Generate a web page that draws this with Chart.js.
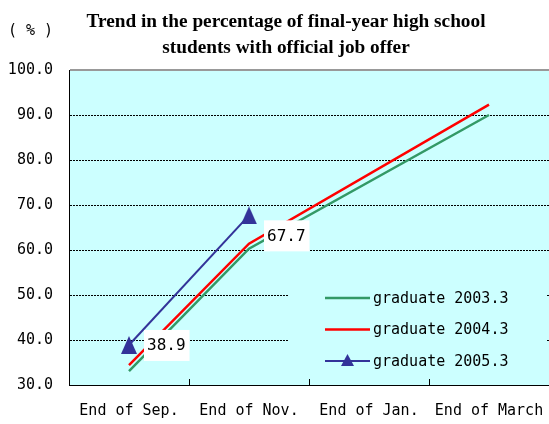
<!DOCTYPE html>
<html>
<head>
<meta charset="utf-8">
<script src="https://cdn.jsdelivr.net/npm/chart.js@4.4.1/dist/chart.umd.min.js"></script>
<style>
  body { margin: 0; background: #fff; }
  canvas { display: block; }
</style>
</head>
<body>
<canvas id="jobChart" width="549" height="424"></canvas>
<script>
    const periods = ['End of Sep.', 'End of Nov.', 'End of Jan.', 'End of March'];
    const grad2003 = [33.1, 60.3, null, 90.0];
    const grad2004 = [34.4, 61.4, null, 92.3];
    const grad2005 = [38.9, 67.7, null, null];
    const yTicks = [30, 40, 50, 60, 70, 80, 90, 100];
    const titleLines = ['Trend in the percentage of final-year high school', 'students with official job offer'];

    const monoFont = '"DejaVu Sans Mono", "Liberation Mono", monospace';

    function makeTriangle(w, h, color) {
      const c = document.createElement('canvas');
      c.width = w;
      c.height = h;
      const g = c.getContext('2d');
      g.fillStyle = color;
      g.beginPath();
      g.moveTo(w / 2, 0);
      g.lineTo(w, h);
      g.lineTo(0, h);
      g.closePath();
      g.fill();
      return c;
    }

    const blueTri = makeTriangle(16, 18, '#333399');

    // cyan plot background
    const plotBg = {
      id: 'plotBg',
      beforeDraw(chart) {
        const { ctx, chartArea: a } = chart;
        ctx.save();
        ctx.fillStyle = '#CCFFFF';
        ctx.fillRect(a.left, a.top, a.right - a.left, a.bottom - a.top);
        ctx.restore();
      }
    };

    // title, unit label and the small inward ticks between categories
    const extras = {
      id: 'extras',
      afterDraw(chart) {
        const { ctx, chartArea: a } = chart;
        const xs = chart.scales.x;
        const half = (xs.getPixelForValue(1) - xs.getPixelForValue(0)) / 2;
        ctx.save();
        ctx.strokeStyle = '#000';
        ctx.lineWidth = 1;
        for (let i = 0; i < periods.length - 1; i++) {
          const x = Math.round(xs.getPixelForValue(i) + half) + 0.5;
          ctx.beginPath();
          ctx.moveTo(x, a.bottom);
          ctx.lineTo(x, a.bottom - 6);
          ctx.stroke();
        }
        ctx.fillStyle = '#000';
        ctx.font = '15px ' + monoFont;
        ctx.textBaseline = 'middle';
        ctx.textAlign = 'left';
        ctx.fillText('( % )', 8, 31);

        ctx.font = 'bold 19.3px "Liberation Serif", "Times New Roman", serif';
        ctx.textAlign = 'center';
        ctx.textBaseline = 'alphabetic';
        titleLines.forEach((line, i) => ctx.fillText(line, 286, 27 + i * 26));
        ctx.restore();
      }
    };

    // value labels on the 2005 series
    const valueLabels = {
      id: 'valueLabels',
      afterDatasetsDraw(chart) {
        const { ctx } = chart;
        const meta = chart.getDatasetMeta(2);
        const shiftY = [0, 20];
        ctx.save();
        ctx.font = '16px ' + monoFont;
        ctx.textBaseline = 'middle';
        ctx.textAlign = 'left';
        meta.data.forEach((pt, i) => {
          const v = grad2005[i];
          if (v === null) return;
          const txt = v.toFixed(1);
          const w = ctx.measureText(txt).width;
          const tx = pt.x + 18;
          const ty = pt.y + shiftY[i];
          ctx.fillStyle = '#fff';
          ctx.fillRect(tx - 3, ty - 15, w + 7, 31);
          ctx.fillStyle = '#000';
          ctx.fillText(txt, tx, ty + 1);
        });
        ctx.restore();
      }
    };

    // legend inside the plot area
    const innerLegend = {
      id: 'innerLegend',
      afterDatasetsDraw(chart) {
        const { ctx, chartArea: a } = chart;
        const boxL = a.left + 219, boxT = a.top + 210;
        const boxR = a.right - 3, boxB = a.top + 308;
        ctx.save();
        ctx.fillStyle = '#CCFFFF';
        ctx.fillRect(boxL, boxT, boxR - boxL, boxB - boxT);
        ctx.font = '15px ' + monoFont;
        ctx.textBaseline = 'middle';
        ctx.textAlign = 'left';
        chart.data.datasets.forEach((ds, i) => {
          const y = boxT + 18 + i * 31.5;
          const x0 = boxL + 37, x1 = boxL + 82;
          ctx.strokeStyle = ds.borderColor;
          ctx.lineWidth = ds.borderWidth;
          ctx.beginPath();
          ctx.moveTo(x0, y);
          ctx.lineTo(x1, y);
          ctx.stroke();
          if (ds.pointRadius > 0) {
            ctx.fillStyle = ds.borderColor;
            ctx.beginPath();
            ctx.moveTo((x0 + x1) / 2, y - 7);
            ctx.lineTo((x0 + x1) / 2 + 6.5, y + 5);
            ctx.lineTo((x0 + x1) / 2 - 6.5, y + 5);
            ctx.closePath();
            ctx.fill();
          }
          ctx.fillStyle = '#000';
          ctx.fillText(ds.label, x1 + 3, y + 1);
        });
        ctx.restore();
      }
    };

    const ctx = document.getElementById('jobChart').getContext('2d');
    const chart = new Chart(ctx, {
      type: 'line',
      data: {
        labels: periods,
        datasets: [
          {
            label: 'graduate 2003.3',
            data: grad2003,
            borderColor: '#339966',
            borderWidth: 2.5,
            pointRadius: 0,
            spanGaps: true
          },
          {
            label: 'graduate 2004.3',
            data: grad2004,
            borderColor: '#FF0000',
            borderWidth: 2.5,
            pointRadius: 0,
            spanGaps: true
          },
          {
            label: 'graduate 2005.3',
            data: grad2005,
            borderColor: '#333399',
            backgroundColor: '#333399',
            borderWidth: 2,
            pointRadius: 9,
            pointStyle: blueTri,
            spanGaps: true
          }
        ]
      },
      plugins: [plotBg, valueLabels, innerLegend, extras],
      options: {
        responsive: false,
        animation: false,
        layout: {
          autoPadding: false,
          padding: { left: 0, right: 0, top: 70, bottom: 4 }
        },
        plugins: {
          legend: { display: false },
          tooltip: { enabled: false },
          title: { display: false }
        },
        scales: {
          x: {
            offset: true,
            afterFit: s => { s.paddingLeft = 0; s.paddingRight = 0; s.height = 35; },
            grid: { display: false, drawTicks: false, tickLength: 0 },
            border: { display: true, color: '#000', width: 1 },
            ticks: {
              color: '#000',
              padding: 17,
              maxRotation: 0,
              autoSkip: false,
              font: { family: monoFont, size: 15 }
            }
          },
          y: {
            min: 30,
            max: 100,
            afterFit: s => { s.width = 69; },
            afterBuildTicks: s => { s.ticks = yTicks.map(v => ({ value: v })); },
            grid: {
              drawTicks: false,
              tickLength: 0,
              color: c => (c.tick && c.tick.value === 100 ? '#999' : '#000'),
              lineWidth: c => (c.tick && c.tick.value === 100 ? 2 : 1)
            },
            border: {
              display: true,
              color: '#000',
              width: 1,
              dash: c => (c.tick && c.tick.value === 100 ? [] : [2, 1])
            },
            ticks: {
              color: '#000',
              padding: 16,
              font: { family: monoFont, size: 15 },
              callback: v => v.toFixed(1)
            }
          }
        }
      }
    });
</script>
</body>
</html>
